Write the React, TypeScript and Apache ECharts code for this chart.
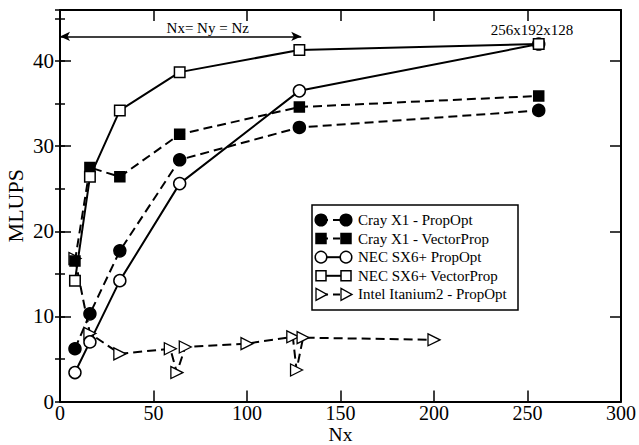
import React, { useEffect, useRef } from "react";
import * as echarts from "echarts";

// ---- data ----
const nx = [8, 16, 32, 64, 128, 256];
const crayPropOpt = [6.2, 10.3, 17.7, 28.4, 32.2, 34.2];
const crayVectorProp = [16.5, 27.5, 26.4, 31.4, 34.6, 35.9];
const necPropOpt = [3.4, 7.0, 14.2, 25.6, 36.5, 42.0];
const necVectorProp = [14.2, 26.4, 34.2, 38.7, 41.3, 42.0];
const intelNx = [8, 16, 32, 59, 62.5, 67, 100, 124.5, 126.5, 130, 200];
const intelPropOpt = [16.8, 8.0, 5.6, 6.2, 3.4, 6.4, 6.8, 7.6, 3.7, 7.5, 7.25];

const seriesNames = [
  "Cray X1 - PropOpt",
  "Cray X1 - VectorProp",
  "NEC SX6+ PropOpt",
  "NEC SX6+ VectorProp",
  "Intel Itanium2 - PropOpt",
];

const xTicks = [0, 50, 100, 150, 200, 250, 300];
const yTicks = [0, 10, 20, 30, 40];

const FONT = "Liberation Serif, serif";
const DASH = [9, 5];

function zip(xs: number[], ys: number[]) {
  return xs.map((x, i) => [x, ys[i]]);
}

export default function App() {
  const ref = useRef<HTMLDivElement>(null);
  useEffect(() => {
    if (!ref.current) return;
    const chart = echarts.init(ref.current, undefined, { renderer: "svg" });

    const baseSeries = (
      name: string,
      data: number[][],
      symbol: string,
      size: number,
      filled: boolean,
      dashed: boolean,
      extra: any = {}
    ) => ({
      name,
      type: "line",
      data,
      symbol,
      symbolSize: size,
      showSymbol: true,
      lineStyle: { color: "#000", width: 2, type: dashed ? DASH : "solid" },
      itemStyle: {
        color: filled ? "#000" : "#fff",
        borderColor: "#000",
        borderWidth: 1.5,
      },
      emphasis: { disabled: true },
      ...extra,
    });

    const xMin = xTicks[0];
    const xMax = xTicks[xTicks.length - 1];
    const yMin = yTicks[0];
    const yMax = 46;

    const legendRows = seriesNames.map((name, i) => {
      const cy = 220 + i * 18.6;
      const x1 = 321;
      const x2 = 346;
      const dashed = i === 0 || i === 1 || i === 4;
      const els: any[] = [
        {
          type: "line",
          shape: { x1, y1: cy, x2, y2: cy },
          style: { stroke: "#000", lineWidth: 2, lineDash: dashed ? [7, 5] : null },
        },
      ];
      [x1, x2].forEach((cx) => {
        if (i === 0 || i === 2) {
          els.push({
            type: "circle",
            shape: { cx, cy, r: 5.8 },
            style: { fill: i === 0 ? "#000" : "#fff", stroke: "#000", lineWidth: 1.5 },
          });
        } else if (i === 1 || i === 3) {
          els.push({
            type: "rect",
            shape: { x: cx - 5, y: cy - 5, width: 10, height: 10 },
            style: { fill: i === 1 ? "#000" : "#fff", stroke: "#000", lineWidth: 1.5 },
          });
        } else {
          els.push({
            type: "polygon",
            shape: { points: [[cx - 5, cy - 6], [cx + 6, cy], [cx - 5, cy + 6]] },
            style: { fill: "#fff", stroke: "#000", lineWidth: 1.3 },
          });
        }
      });
      els.push({
        type: "text",
        x: 358,
        y: cy,
        style: {
          text: name,
          fill: "#000",
          fontFamily: FONT,
          fontSize: 15,
          verticalAlign: "middle",
        },
      });
      return { type: "group", children: els };
    });

    const tickLabelStyle = { color: "#000", fontFamily: FONT, fontSize: 21 };
    const nameStyle = { color: "#000", fontFamily: FONT, fontSize: 22 };
    const axisLine = { show: true, onZero: false, lineStyle: { color: "#000", width: 2 } };
    const majorTick = { show: true, inside: true, length: 11, lineStyle: { color: "#000", width: 1.5 } };
    const minorTick = { show: true, inside: true, length: 5, lineStyle: { color: "#000", width: 1.5 } };

    const option: any = {
      animation: false,
      backgroundColor: "#fff",
      textStyle: { fontFamily: FONT },
      grid: { left: 60, right: 18, top: 10, bottom: 43.5, outerBoundsMode: "none" },
      xAxis: [
        {
          type: "value",
          position: "bottom",
          min: xMin,
          max: xMax,
          interval: 50,
          name: "Nx",
          nameLocation: "middle",
          nameGap: 23,
          nameMoveOverlap: false,
          nameTextStyle: { ...nameStyle, fontSize: 19.5, lineHeight: 20 },
          axisLine,
          axisTick: majorTick,
          axisLabel: { ...tickLabelStyle, fontSize: 20, margin: 1, lineHeight: 20 },
          splitLine: { show: false },
        },
        {
          type: "value",
          position: "top",
          min: xMin,
          max: xMax,
          interval: 50,
          axisLine,
          axisTick: majorTick,
          axisLabel: { show: false },
          splitLine: { show: false },
        },
      ],
      yAxis: [
        {
          type: "value",
          position: "left",
          min: yMin,
          max: yMax,
          interval: 10,
          name: "MLUPS",
          nameLocation: "middle",
          nameGap: 34,
          nameMoveOverlap: false,
          nameTextStyle: nameStyle,
          axisLine,
          axisTick: majorTick,
          axisLabel: { ...tickLabelStyle, margin: 6, showMaxLabel: false },
          splitLine: { show: false },
        },
        {
          type: "value",
          position: "left",
          min: yMin,
          max: yMax,
          interval: 5,
          axisLine: { show: false },
          axisTick: minorTick,
          axisLabel: { show: false },
          splitLine: { show: false },
        },
        {
          type: "value",
          position: "right",
          min: yMin,
          max: yMax,
          interval: 10,
          axisLine,
          axisTick: majorTick,
          axisLabel: { show: false },
          splitLine: { show: false },
        },
        {
          type: "value",
          position: "right",
          min: yMin,
          max: yMax,
          interval: 5,
          axisLine: { show: false },
          axisTick: minorTick,
          axisLabel: { show: false },
          splitLine: { show: false },
        },
      ],
      series: [
        baseSeries(seriesNames[4], zip(intelNx, intelPropOpt), "triangle", 12, false, true, {
          symbolRotate: -90,
          itemStyle: { color: "#fff", borderColor: "#000", borderWidth: 1.3 },
        }),
        baseSeries(seriesNames[0], zip(nx, crayPropOpt), "circle", 12, true, true),
        baseSeries(seriesNames[1], zip(nx, crayVectorProp), "rect", 10, true, true),
        baseSeries(seriesNames[2], zip(nx, necPropOpt), "circle", 12, false, false),
        baseSeries(seriesNames[3], zip(nx, necVectorProp), "rect", 10.5, false, false, {
          markLine: {
            silent: true,
            symbol: ["arrow", "arrow"],
            symbolSize: [7, 10],
            lineStyle: { color: "#000", width: 1.5, type: "solid" },
            label: { show: false },
            emphasis: { disabled: true },
            data: [[{ coord: [0, 42.9] }, { coord: [129, 42.9] }]],
          },
          markPoint: {
            silent: true,
            symbol: "circle",
            symbolSize: 1,
            itemStyle: { color: "rgba(0,0,0,0)", borderWidth: 0 },
            label: {
              show: true,
              position: "inside",
              formatter: (p: any) => p.name,
              color: "#000",
              fontFamily: FONT,
              fontSize: 15,
            },
            data: [
              { name: "Nx= Ny = Nz", coord: [79, 43.9] },
              { name: "256x192x128", coord: [252.4, 43.65] },
            ],
          },
        }),
      ],
      graphic: [{ type: "group", z: 100, children: [
        {
          type: "rect",
          shape: { x: 312, y: 205, width: 206, height: 105 },
          style: { fill: "#fff", stroke: "#000", lineWidth: 1.5 },
        },
        ...legendRows,
      ] }],
    };

    chart.setOption(option);
    return () => chart.dispose();
  }, []);

  return (
    <div
      ref={ref}
      style={{ position: "fixed", left: 0, top: 0, width: 639, height: 445, background: "#fff" }}
    />
  );
}
